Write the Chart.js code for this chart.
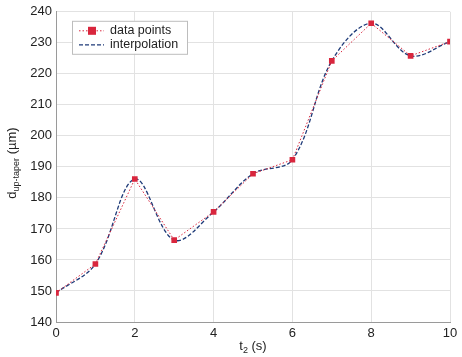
<!DOCTYPE html>
<html>
<head>
<meta charset="utf-8">
<script src="https://cdn.jsdelivr.net/npm/chart.js@4"></script>
<style>
  html, body { margin: 0; padding: 0; background: #fff; }
  #wrap { width: 462px; height: 357px; }
</style>
</head>
<body>
<div id="wrap"><canvas id="chart" width="462" height="357"></canvas></div>
<script>
// values
const times = [0, 1, 2, 3, 4, 5, 6, 7, 8, 9, 10];
const diameters = [149.4, 158.7, 186.1, 166.4, 175.5, 187.8, 192.3, 224.2, 236.3, 225.8, 230.4];
const xTicks = [0, 2, 4, 6, 8, 10];
const yTicks = [140, 150, 160, 170, 180, 190, 200, 210, 220, 230, 240];
const seriesNames = ['data points', 'interpolation'];

const FONT = '"Liberation Sans", Arial, sans-serif';
const RED = '#d9263d';
const BLUE = '#1e3a78';

const points = times.map((t, i) => ({ x: t, y: diameters[i] }));

// axis titles with subscripts + legend box inside the plot
const decor = {
    id: 'decor',
    afterDraw(chart) {
        const c = chart.ctx;
        const area = chart.chartArea;
        c.save();
        c.fillStyle = '#222';
        c.textBaseline = 'alphabetic';

        // x title: t2 (s)
        const xc = (area.left + area.right) / 2;
        c.font = '13px ' + FONT;
        const w1 = c.measureText('t').width;
        c.font = '9px ' + FONT;
        const w2 = c.measureText('2').width;
        c.font = '13px ' + FONT;
        const w3 = c.measureText(' (s)').width;
        let x = xc - (w1 + w2 + w3) / 2;
        const yb = 350;
        c.fillText('t', x, yb); x += w1;
        c.font = '9px ' + FONT;
        c.fillText('2', x, yb + 3); x += w2;
        c.font = '13px ' + FONT;
        c.fillText(' (s)', x, yb);

        // y title: d_up-taper (µm)
        c.translate(16, 163);
        c.rotate(-Math.PI / 2);
        c.font = '13px ' + FONT;
        const a1 = c.measureText('d').width;
        c.font = '9px ' + FONT;
        const a2 = c.measureText('up-taper').width;
        c.font = '13px ' + FONT;
        const a3 = c.measureText(' (\u00b5m)').width;
        let yx = -(a1 + a2 + a3) / 2;
        c.fillText('d', yx, 0); yx += a1;
        c.font = '9px ' + FONT;
        c.fillText('up-taper', yx, 3); yx += a2;
        c.font = '13px ' + FONT;
        c.fillText(' (\u00b5m)', yx, 0);
        c.restore();

        // legend
        c.save();
        const lx = area.left + 16, ly = area.top + 9, lw = 115, lh = 33;
        c.fillStyle = '#fff';
        c.fillRect(lx, ly, lw, lh);
        c.strokeStyle = '#bdbdbd';
        c.lineWidth = 1;
        c.strokeRect(lx + 0.5, ly + 0.5, lw, lh);
        const rows = [ly + 10, ly + 24];
        c.lineWidth = 1;
        c.strokeStyle = RED;
        c.setLineDash([1.5, 2]);
        c.beginPath(); c.moveTo(lx + 7, rows[0]); c.lineTo(lx + 32, rows[0]); c.stroke();
        c.setLineDash([]);
        c.fillStyle = RED;
        c.fillRect(lx + 16, rows[0] - 4, 8, 8);
        c.strokeStyle = BLUE;
        c.lineWidth = 1.3;
        c.setLineDash([4, 2]);
        c.beginPath(); c.moveTo(lx + 7, rows[1]); c.lineTo(lx + 32, rows[1]); c.stroke();
        c.setLineDash([]);
        c.fillStyle = '#222';
        c.font = '12.5px ' + FONT;
        c.textBaseline = 'middle';
        c.fillText(seriesNames[0], lx + 38, rows[0]);
        c.fillText(seriesNames[1], lx + 38, rows[1]);
        c.restore();
    }
};

new Chart(document.getElementById('chart'), {
    type: 'line',
    data: {
        datasets: [
            {
                label: seriesNames[0],
                data: points,
                borderColor: RED,
                borderWidth: 1,
                borderDash: [1.5, 2],
                backgroundColor: RED,
                pointStyle: 'rect',
                pointRadius: 4,
                pointBackgroundColor: RED,
                pointBorderWidth: 0,
                tension: 0,
                order: 0
            },
            {
                label: seriesNames[1],
                data: points,
                borderColor: BLUE,
                borderWidth: 1.3,
                borderDash: [4, 2],
                pointRadius: 0,
                tension: 0.35,
                order: 1
            }
        ]
    },
    options: {
        responsive: false,
        animation: false,
        layout: { padding: { top: 11, right: 12, left: 0, bottom: 0 } },
        plugins: { legend: { display: false }, tooltip: { enabled: false } },
        scales: {
            x: {
                type: 'linear',
                min: 0, max: 10,
                afterBuildTicks: s => { s.ticks = xTicks.map(v => ({ value: v })); },
                afterFit: s => { s.height = 35; },
                grid: { color: '#e2e2e2', drawTicks: false },
                border: { color: '#9a9a9a' },
                ticks: { padding: 4, color: '#222', font: { family: FONT, size: 13 } }
            },
            y: {
                min: 140, max: 240,
                afterBuildTicks: s => { s.ticks = yTicks.map(v => ({ value: v })); },
                afterFit: s => { s.width = 56; },
                grid: { color: '#e2e2e2', drawTicks: false },
                border: { color: '#9a9a9a' },
                ticks: { padding: 4, color: '#222', font: { family: FONT, size: 13 } }
            }
        }
    },
    plugins: [decor]
});
</script>
</body>
</html>
